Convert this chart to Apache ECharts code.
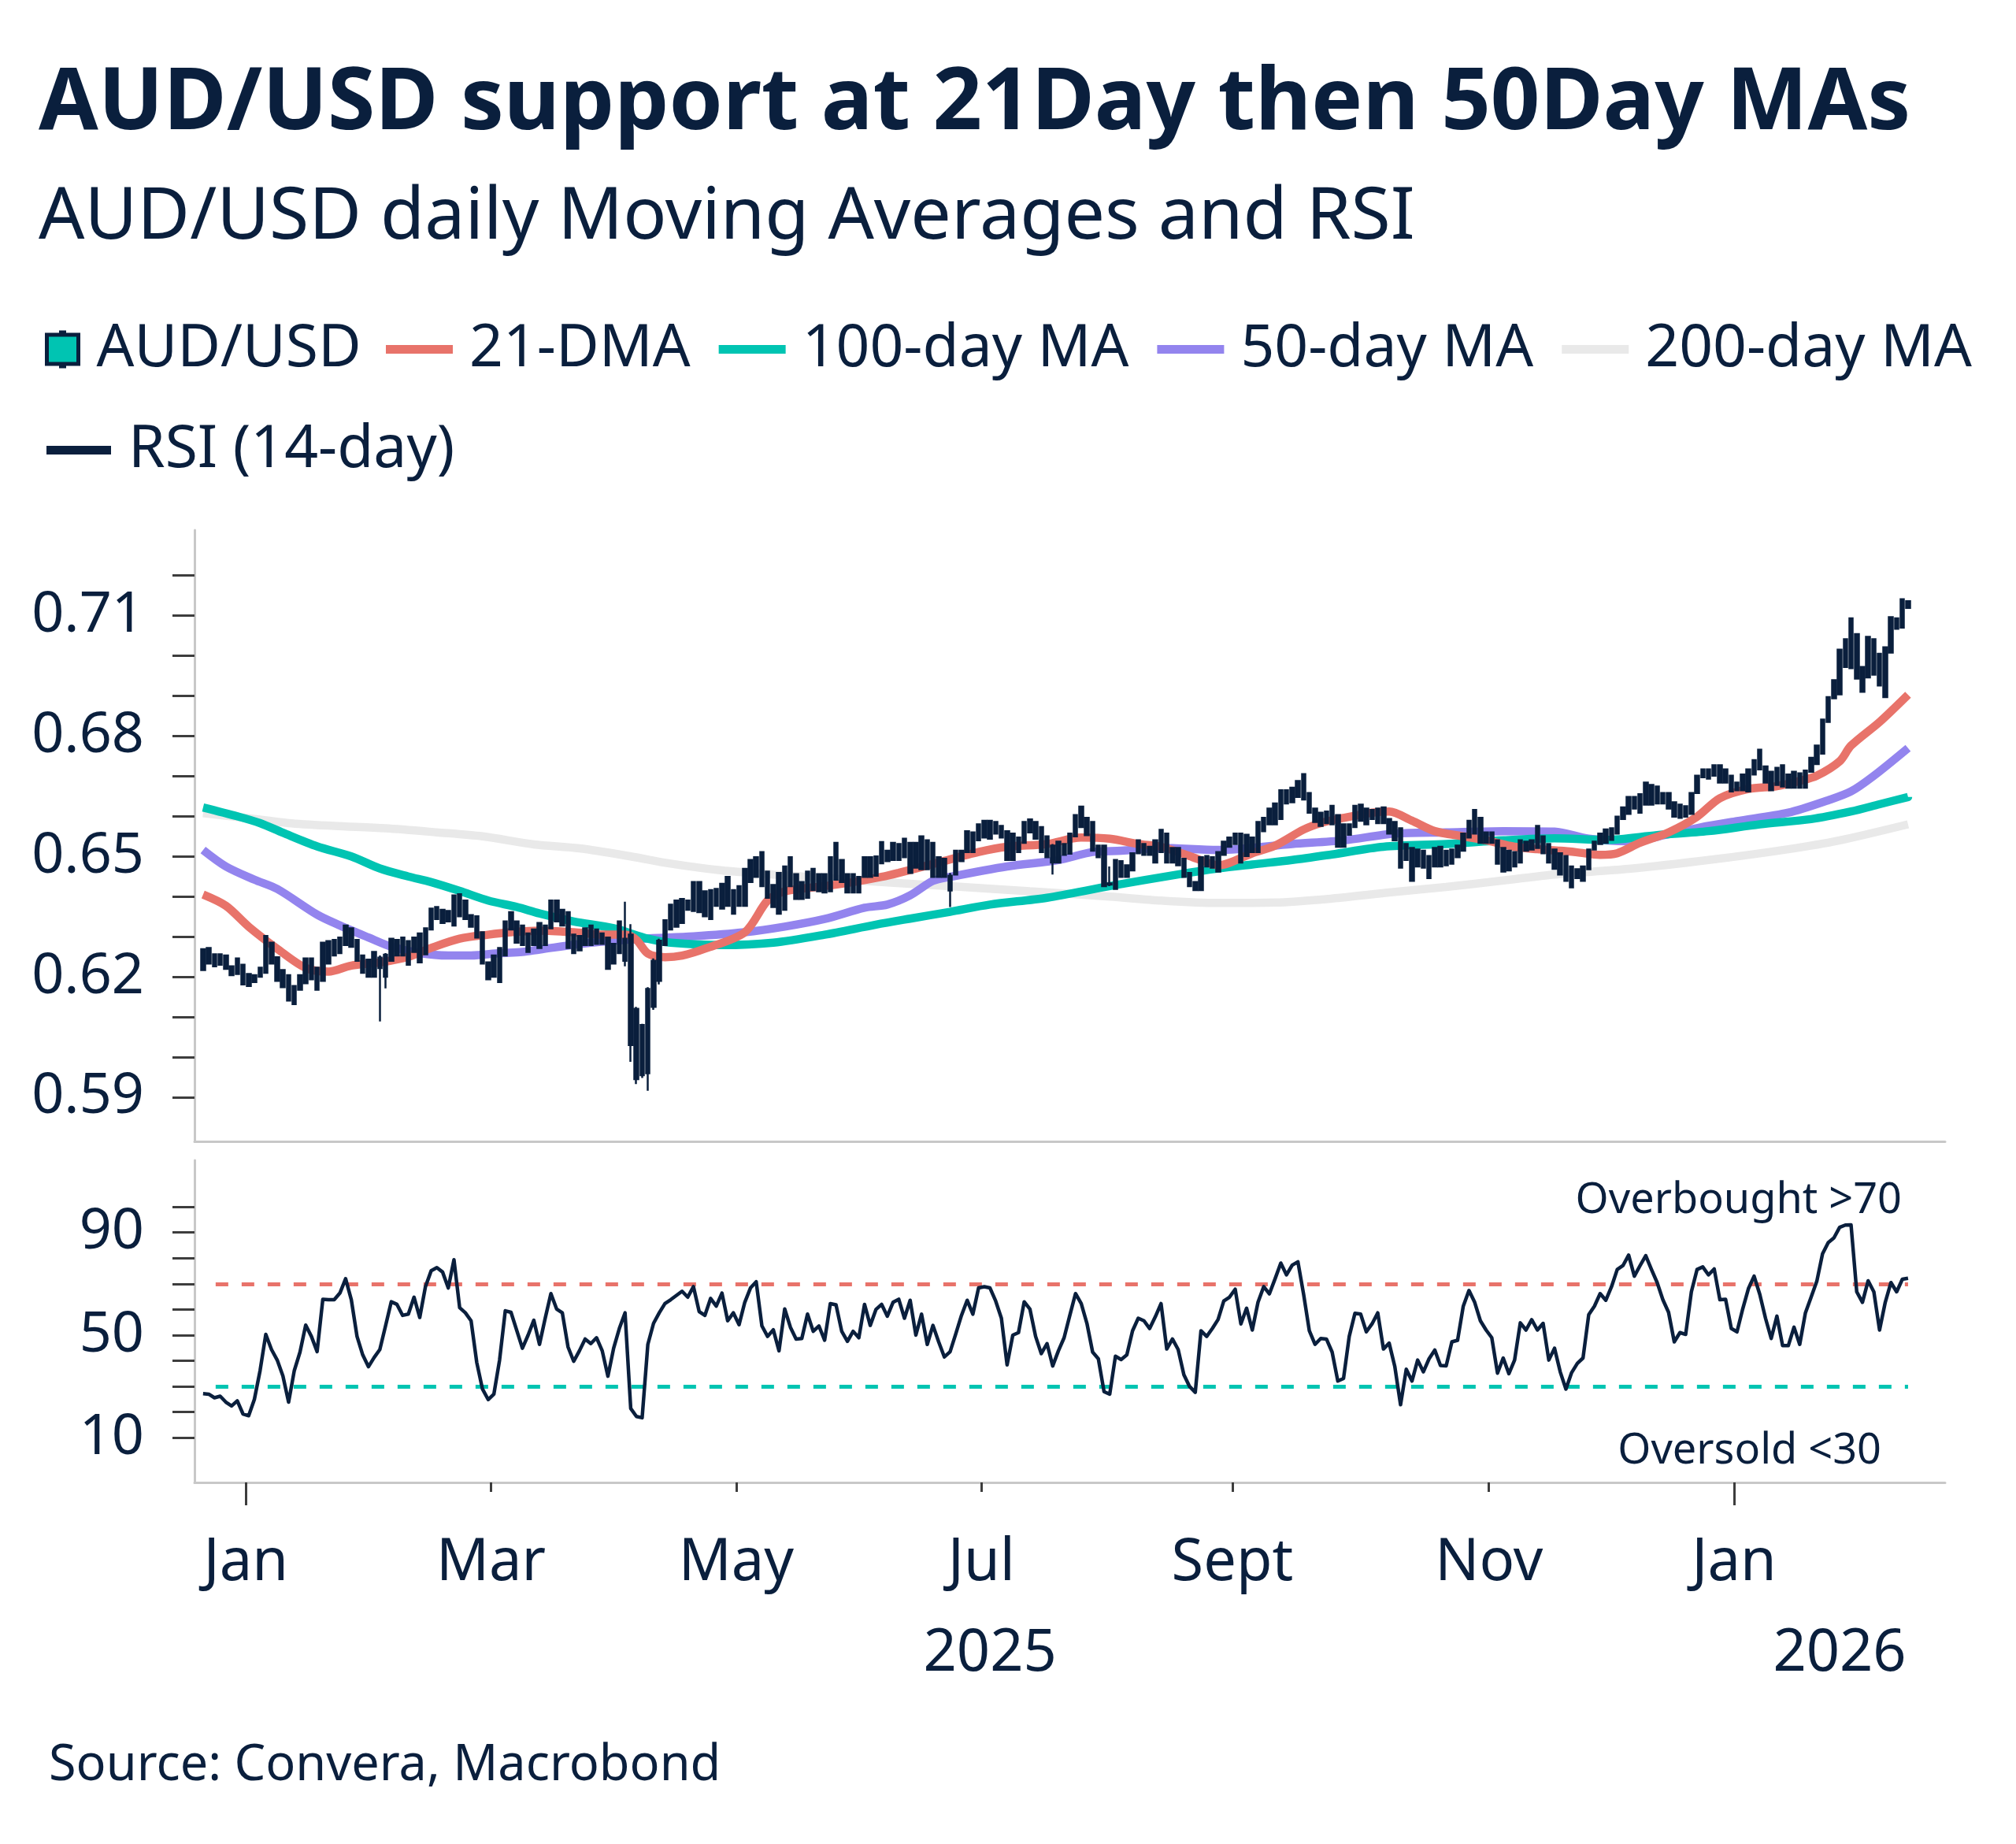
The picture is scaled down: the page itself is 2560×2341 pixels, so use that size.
<!DOCTYPE html>
<html>
<head>
<meta charset="utf-8">
<script src="https://cdn.jsdelivr.net/npm/echarts@6/dist/echarts.min.js"></script>
<style>
html,body{margin:0;padding:0;background:#ffffff;}
#chart{width:2560px;height:2341px;}
</style>
</head>
<body>
<div id="chart"></div>
<script>
// ---------------- DATA ----------------
const firstCategoryDate = '2024-12-19';   // x-axis runs over business days
const categoryCount = 307;
const firstCandleDate = '2024-12-20';

// AUD/USD daily candles [open, close, low, high], 20 Dec 2024 .. 12 Feb 2026
const candles = [
[.6217,.6269,.6217,.6269],[.6272,.6233,.6233,.6272],[.6226,.6256,.6226,.6256],[.6256,.6230,.6230,.6256],[.6253,.6220,.6220,.6253],[.6204,.6226,.6204,.6226],[.6246,.6207,.6207,.6246],[.6230,.6181,.6181,.6230],
[.6177,.6207,.6177,.6207],[.6187,.6204,.6187,.6204],[.6200,.6223,.6200,.6223],[.6210,.6302,.6210,.6302],[.6285,.6233,.6233,.6285],[.6249,.6190,.6190,.6249],[.6217,.6174,.6174,.6217],[.6204,.6141,.6141,.6204],[.6132,.6177,.6132,.6177],[.6168,.6204,.6168,.6204],[.6184,.6246,.6184,.6246],[.6246,.6194,.6194,.6246],[.6168,.6223,.6168,.6223],[.6190,.6285,.6190,.6285],[.6233,.6289,.6233,.6289],[.6253,.6292,.6253,.6292],[.6259,.6298,.6259,.6298],[.6328,.6279,.6279,.6328],[.6321,.6275,.6275,.6321],[.6292,.6240,.6240,.6292],[.6253,.6210,.6210,.6253],[.6200,.6243,.6200,.6243],[.6262,.6200,.6200,.6262],
[.6222,.6248,.6089,.6253],[.6200,.6255,.6171,.6259],[.6240,.6295,.6240,.6295],[.6292,.6253,.6253,.6292],[.6298,.6253,.6253,.6298],[.6230,.6289,.6230,.6289],[.6298,.6262,.6262,.6298],[.6236,.6308,.6236,.6308],[.6256,.6321,.6256,.6321],[.6318,.6370,.6318,.6370],[.6374,.6344,.6344,.6374],[.6367,.6334,.6334,.6367],[.6338,.6364,.6338,.6364],[.6328,.6403,.6328,.6403],[.6406,.6351,.6351,.6406],[.6390,.6344,.6344,.6390],[.6354,.6325,.6325,.6354],[.6351,.6298,.6298,.6351],[.6311,.6233,.6233,.6311],[.6194,.6236,.6194,.6236],
[.6253,.6200,.6200,.6253],[.6187,.6272,.6187,.6272],[.6253,.6338,.6253,.6338],[.6361,.6318,.6318,.6361],[.6338,.6285,.6285,.6338],[.6328,.6279,.6279,.6328],[.6262,.6308,.6262,.6308],[.6279,.6318,.6279,.6318],[.6334,.6272,.6272,.6334],[.6279,.6328,.6279,.6328],[.6321,.6390,.6321,.6390],[.6390,.6338,.6338,.6390],[.6367,.6328,.6328,.6367],[.6361,.6272,.6272,.6361],[.6259,.6305,.6259,.6305],[.6266,.6302,.6266,.6302],[.6279,.6321,.6279,.6321],[.6328,.6279,.6279,.6328],[.6318,.6282,.6282,.6318],[.6308,.6282,.6282,.6308],[.6298,.6220,.6220,.6298],
[.6233,.6282,.6233,.6282],[.6259,.6338,.6259,.6338],[.6295,.6240,.6226,.6387],[.6305,.6030,.5988,.6331],[.6120,.5945,.5933,.6125],[.6080,.5955,.5948,.6083],[.5960,.6170,.5916,.6174],[.6125,.6240,.6118,.6246],[.6190,.6290,.6181,.6295],[.6279,.6341,.6279,.6341],[.6318,.6380,.6318,.6380],[.6325,.6390,.6325,.6390],[.6334,.6394,.6334,.6394],[.6367,.6390,.6367,.6390],[.6436,.6364,.6364,.6436],[.6436,.6361,.6361,.6436],[.6413,.6351,.6351,.6413],[.6344,.6416,.6344,.6416],[.6377,.6419,.6377,.6419],[.6370,.6432,.6370,.6432],[.6449,.6377,.6377,.6449],[.6357,.6416,.6357,.6416],
[.6377,.6426,.6377,.6426],[.6377,.6469,.6377,.6469],[.6436,.6491,.6436,.6491],[.6498,.6449,.6449,.6498],[.6511,.6426,.6426,.6511],[.6462,.6397,.6397,.6462],[.6374,.6429,.6374,.6429],[.6357,.6459,.6357,.6459],[.6367,.6475,.6367,.6475],[.6498,.6426,.6426,.6498],[.6456,.6394,.6394,.6456],[.6394,.6436,.6394,.6436],[.6397,.6462,.6397,.6462],[.6469,.6416,.6416,.6469],[.6456,.6413,.6413,.6456],[.6410,.6456,.6410,.6456],[.6413,.6498,.6413,.6498],[.6534,.6442,.6442,.6534],[.6491,.6436,.6436,.6491],[.6456,.6410,.6410,.6456],[.6456,.6410,.6410,.6456],[.6410,.6449,.6410,.6449],
[.6449,.6498,.6449,.6498],[.6449,.6498,.6449,.6498],[.6452,.6500,.6452,.6500],[.6536,.6483,.6483,.6536],[.6488,.6514,.6488,.6514],[.6534,.6491,.6491,.6534],[.6491,.6531,.6491,.6531],[.6544,.6498,.6498,.6544],[.6459,.6534,.6459,.6534],[.6472,.6534,.6472,.6534],[.6550,.6468,.6468,.6550],[.6540,.6468,.6468,.6540],[.6534,.6449,.6449,.6534],[.6498,.6449,.6449,.6498],[.6494,.6449,.6449,.6494],[.6415,.6452,.6374,.6459],[.6455,.6514,.6455,.6514],[.6488,.6514,.6488,.6514],[.6511,.6563,.6511,.6563],[.6511,.6560,.6511,.6560],[.6540,.6580,.6540,.6580],
[.6589,.6547,.6547,.6589],[.6544,.6589,.6544,.6589],[.6586,.6557,.6557,.6586],[.6576,.6547,.6547,.6576],[.6563,.6491,.6491,.6563],[.6491,.6557,.6491,.6557],[.6511,.6547,.6511,.6547],[.6534,.6586,.6534,.6586],[.6592,.6560,.6560,.6592],[.6586,.6544,.6544,.6586],[.6573,.6511,.6511,.6573],[.6550,.6498,.6498,.6550],[.6485,.6527,.6455,.6531],[.6485,.6537,.6485,.6537],[.6504,.6531,.6504,.6531],[.6507,.6557,.6507,.6557],[.6550,.6603,.6550,.6603],[.6624,.6573,.6573,.6624],[.6596,.6553,.6553,.6596],[.6586,.6514,.6514,.6586],[.6527,.6498,.6498,.6527],[.6527,.6426,.6426,.6527],[.6433,.6430,.6426,.6475],
[.6419,.6491,.6419,.6491],[.6488,.6449,.6449,.6488],[.6449,.6478,.6449,.6478],[.6465,.6508,.6465,.6508],[.6540,.6508,.6508,.6540],[.6531,.6504,.6504,.6531],[.6504,.6524,.6504,.6524],[.6485,.6540,.6485,.6540],[.6566,.6511,.6511,.6566],[.6557,.6485,.6485,.6557],[.6521,.6485,.6485,.6521],[.6521,.6478,.6478,.6521],[.6494,.6449,.6449,.6494],[.6459,.6426,.6426,.6459],[.6416,.6436,.6416,.6436],[.6416,.6498,.6416,.6498],[.6501,.6475,.6475,.6501],[.6472,.6498,.6472,.6498],[.6462,.6511,.6462,.6511],[.6504,.6537,.6504,.6537],[.6524,.6547,.6524,.6547],
[.6557,.6531,.6531,.6557],[.6557,.6485,.6485,.6557],[.6501,.6554,.6501,.6554],[.6511,.6547,.6511,.6547],[.6511,.6586,.6511,.6586],[.6563,.6596,.6563,.6596],[.6580,.6619,.6580,.6619],[.6580,.6632,.6580,.6632],[.6593,.6665,.6593,.6665],[.6632,.6665,.6632,.6665],[.6635,.6671,.6635,.6671],[.6648,.6688,.6648,.6688],[.6705,.6642,.6642,.6705],[.6658,.6609,.6609,.6658],[.6619,.6586,.6586,.6619],[.6576,.6609,.6576,.6609],[.6583,.6612,.6583,.6612],[.6626,.6580,.6580,.6626],[.6603,.6524,.6524,.6603],[.6524,.6580,.6524,.6580],[.6554,.6580,.6554,.6580],[.6573,.6626,.6573,.6626],
[.6629,.6589,.6589,.6629],[.6580,.6619,.6580,.6619],[.6616,.6593,.6593,.6616],[.6583,.6619,.6583,.6619],[.6622,.6583,.6583,.6622],[.6593,.6557,.6557,.6593],[.6586,.6540,.6540,.6586],[.6570,.6472,.6472,.6570],[.6531,.6491,.6491,.6531],[.6439,.6521,.6439,.6521],[.6517,.6475,.6475,.6517],[.6514,.6472,.6472,.6514],[.6446,.6501,.6446,.6501],[.6521,.6475,.6475,.6521],[.6524,.6475,.6475,.6524],[.6478,.6514,.6478,.6514],[.6482,.6517,.6482,.6517],[.6498,.6527,.6498,.6527],[.6514,.6557,.6514,.6557],[.6547,.6589,.6547,.6589],[.6616,.6557,.6557,.6616],[.6596,.6534,.6534,.6596],[.6560,.6534,.6534,.6560],
[.6560,.6534,.6534,.6560],[.6540,.6482,.6482,.6540],[.6462,.6521,.6462,.6521],[.6465,.6514,.6465,.6514],[.6475,.6511,.6475,.6511],[.6485,.6540,.6485,.6540],[.6514,.6537,.6514,.6537],[.6517,.6540,.6517,.6540],[.6576,.6521,.6521,.6576],[.6550,.6508,.6508,.6550],[.6531,.6485,.6485,.6531],[.6517,.6469,.6469,.6517],[.6508,.6455,.6455,.6508],[.6501,.6439,.6439,.6501],[.6423,.6475,.6423,.6475],[.6446,.6468,.6446,.6468],[.6439,.6475,.6439,.6475],[.6468,.6517,.6468,.6517],[.6517,.6537,.6517,.6537],[.6531,.6557,.6531,.6557],
[.6534,.6567,.6534,.6567],[.6541,.6570,.6541,.6570],[.6557,.6599,.6557,.6599],[.6593,.6622,.6593,.6622],[.6606,.6648,.6606,.6648],[.6648,.6619,.6619,.6648],[.6609,.6655,.6609,.6655],[.6629,.6684,.6629,.6684],[.6678,.6629,.6629,.6678],[.6674,.6632,.6632,.6674],[.6658,.6632,.6632,.6658],[.6658,.6619,.6619,.6658],[.6635,.6599,.6599,.6635],[.6596,.6629,.6596,.6629],[.6599,.6625,.6599,.6625],[.6606,.6658,.6606,.6658],[.6658,.6701,.6658,.6701],[.6697,.6717,.6697,.6717],[.6694,.6717,.6694,.6717],[.6727,.6701,.6701,.6727],[.6727,.6684,.6684,.6727],[.6717,.6684,.6684,.6717],[.6701,.6662,.6662,.6701],
[.6665,.6684,.6665,.6684],[.6665,.6704,.6665,.6704],[.6662,.6717,.6662,.6717],[.6704,.6740,.6704,.6740],[.6766,.6717,.6717,.6766],[.6724,.6684,.6684,.6724],[.6665,.6711,.6665,.6711],[.6721,.6678,.6678,.6721],[.6727,.6674,.6674,.6727],[.6671,.6704,.6671,.6704],[.6711,.6671,.6671,.6711],[.6671,.6707,.6671,.6707],[.6671,.6714,.6671,.6714],[.6711,.6746,.6711,.6746],[.6730,.6776,.6730,.6776],[.6756,.6841,.6756,.6841],[.6835,.6897,.6835,.6897],[.6894,.6939,.6894,.6939],[.6904,.7015,.6904,.7015],[.6972,.7041,.6972,.7041],[.7093,.6969,.6969,.7093],[.7054,.6943,.6943,.7054],
[.6910,.6972,.6910,.6972],[.6946,.7047,.6946,.7047],[.7041,.6953,.6953,.7041],[.7005,.6926,.6926,.7005],[.6897,.7021,.6897,.7021],[.7008,.7096,.7008,.7096],[.7067,.7093,.7067,.7093],[.7070,.7141,.7070,.7141],[.7119,.7136,.7119,.7136]
];

// RSI (14-day), same days as the candles (null = not read)
const rsi = [
27.2,27.0,25.6,26.2,23.9,22.4,24.4,19.3,
18.6,25.0,36.2,50.3,44.4,40.3,34.1,23.9,36.2,43.4,
53.9,49.5,43.6,64.0,63.8,63.8,66.4,72.0,63.8,49.5,
42.3,37.7,41.3,44.4,53.6,63.0,62.0,57.7,58.2,64.8,
56.9,68.9,75.1,76.3,74.6,68.4,79.4,60.7,58.7,55.6,
39.3,29.0,24.9,27.0,40.3,59.5,58.9,null,44.9,50.0,
55.8,46.4,56.6,66.2,60.2,58.7,45.4,39.8,43.9,48.5,
46.7,49.0,43.9,34.0,44.9,52.6,58.7,21.4,18.3,17.8,
46.4,54.6,58.7,62.3,63.8,null,67.1,64.8,68.9,59.2,
57.7,64.3,61.3,66.4,55.6,58.7,54.1,62.8,68.4,70.8,
53.6,49.5,52.1,43.9,60.2,53.1,48.5,48.7,58.2,51.5,
53.6,48.0,62.3,61.8,51.5,47.6,51.5,49.0,62.0,53.8,
60.0,62.0,57.4,62.8,64.0,56.6,63.6,50.0,58.2,46.4,
53.8,47.4,41.5,43.5,50.5,57.7,63.6,58.2,68.4,68.9,
68.4,63.3,56.6,38.4,50.0,51.0,63.0,60.2,49.5,42.8,
46.7,38.0,43.9,49.0,57.7,66.2,62.3,54.6,43.4,40.8,
28.0,27.0,41.8,40.5,42.3,51.7,56.6,55.6,52.6,57.2,
62.3,44.6,48.5,44.4,34.6,30.0,27.7,51.7,49.5,52.6,
56.1,63.3,64.8,67.9,54.4,60.5,52.0,62.8,68.9,66.1,
72.0,78.1,73.5,77.3,78.6,65.9,51.7,46.4,48.7,48.5,
43.4,32.1,33.1,49.5,58.5,58.2,51.3,54.4,58.7,44.6,
46.9,37.7,22.9,36.7,32.1,40.3,35.7,40.8,44.2,38.2,
38.0,47.4,48.0,61.3,67.4,62.8,55.6,52.0,49.0,35.2,
41.1,35.0,40.3,54.8,52.0,56.0,52.0,54.6,40.3,44.9,
35.7,29.0,35.4,39.0,41.1,58.0,61.3,66.2,63.6,68.9,
75.6,77.1,81.2,73.0,77.1,81.0,75.6,70.5,63.8,58.9,
47.4,51.0,50.3,66.9,75.6,76.6,73.5,75.8,63.8,64.0,
52.6,51.3,60.2,68.1,73.0,65.9,56.6,48.7,57.4,45.9,
45.9,53.1,46.4,58.7,64.8,71.0,81.7,86.1,87.9,92.0,
92.9,93.0,66.9,62.8,71.2,66.9,52.0,62.8,70.5,66.9,
71.8,72.2
];

// Moving averages: [business-day index on the x axis, value]
const ma21 = [[1,.6405],[5,.6377],[9,.6325],[14,.6270],[19,.6222],[23,.6213],[27,.6228],[32,.6236],[37,.6250],[41,.6272],[46,.6295],[51,.6305],[55,.6311],[60,.6315],[66,.6311],[71,.6305],[75,.6305],[77,.6292],[79,.6258],[82,.6249],[85,.6253],[89,.6270],[96,.6311],[100,.6390],[103,.6413],[110,.6426],[115,.6436],[120,.6449],[123,.6459],[130,.6485],[137,.6511],[142,.6524],[149,.6531],[155,.6547],[160,.6544],[165,.6531],[169,.6524],[174,.6501],[177,.6485],[179,.6478],[185,.6508],[189,.6527],[194,.6567],[197,.6583],[201,.6596],[206,.6609],[209,.6612],[213,.6589],[217,.6563],[222,.6550],[226,.6540],[231,.6524],[235,.6518],[239,.6514],[242,.6510],[246,.6504],[249,.6508],[253,.6534],[258,.6560],[263,.6599],[267,.6645],[272,.6668],[277,.6675],[281,.6688],[284,.6701],[288,.6737],[290,.6776],[295,.6835],[300,.6903]];
const ma50 = [[1,.6516],[5,.6475],[10,.6442],[14,.6419],[21,.6355],[25,.6328],[30,.6298],[34,.6275],[39,.6259],[44,.6253],[48,.6253],[53,.6259],[57,.6262],[60,.6268],[69,.6285],[78,.6295],[87,.6301],[96,.6311],[103,.6325],[110,.6344],[117,.6372],[121,.6380],[125,.6403],[129,.6439],[132,.6449],[142,.6475],[151,.6491],[157,.6511],[162,.6514],[169,.6521],[179,.6516],[192,.6531],[201,.6540],[210,.6557],[219,.6560],[229,.6563],[238,.6562],[244,.6544],[251,.6538],[258,.6555],[265,.6576],[270,.6588],[279,.6609],[286,.6640],[290,.6662],[294,.6701],[300,.6770]];
const ma100 = [[1,.6622],[7,.6600],[11,.6583],[15,.6559],[21,.6525],[27,.6500],[32,.6470],[37,.6450],[41,.6436],[46,.6414],[51,.6390],[56,.6374],[60,.6358],[66,.6338],[73,.6321],[79,.6295],[83,.6285],[92,.6279],[101,.6285],[110,.6305],[119,.6330],[125,.6345],[132,.6362],[139,.6380],[149,.6397],[160,.6426],[172,.6455],[179,.6470],[185,.6480],[192,.6491],[199,.6505],[208,.6524],[219,.6531],[229,.6540],[238,.6545],[247,.6541],[256,.6553],[265,.6563],[274,.6580],[283,.6593],[290,.6612],[295,.6630],[300,.6648]];
const ma200 = [[1,.6608],[9,.6595],[16,.6583],[24,.6576],[33,.6570],[42,.6560],[50,.6550],[59,.6530],[67,.6520],[76,.6500],[83,.6482],[92,.6465],[101,.6455],[110,.6446],[120,.6436],[132,.6426],[146,.6413],[160,.6400],[169,.6390],[179,.6384],[189,.6385],[199,.6395],[209,.6410],[219,.6424],[229,.6440],[238,.6455],[251,.6469],[265,.6491],[279,.6518],[288,.6540],[300,.6580]];

// Axis ticks and labels
const priceTicks = [0.59,0.60,0.61,0.62,0.63,0.64,0.65,0.66,0.67,0.68,0.69,0.70,0.71,0.72];
const priceLabels = [0.59,0.62,0.65,0.68,0.71];
const rsiTicks = [10,20,30,40,50,60,70,80,90,100];
const rsiLabels = [10,50,90];
const monthLabelNames = {0:'Jan',2:'Mar',4:'May',6:'Jul',8:'Sept',10:'Nov'};
const yearLabels = ['2025','2026'];
const overbought = 70, oversold = 30;

// ---------------- BUILD ----------------
const dates = [];
(function () {
  const d = new Date(firstCategoryDate + 'T00:00:00Z');
  while (dates.length < categoryCount) {
    const w = d.getUTCDay();
    if (w !== 0 && w !== 6) dates.push(d.toISOString().slice(0, 10));
    d.setUTCDate(d.getUTCDate() + 1);
  }
})();
const c0 = dates.indexOf(firstCandleDate);
const candleData = candles.map((c, i) => [c0 + i, c[0], c[1], c[2], c[3]]);
const rsiData = [];
rsi.forEach((v, i) => { if (v !== null) rsiData.push([c0 + i, v]); });
const lastIdx = c0 + candles.length - 1;

const monthStarts = [];
for (let i = 1; i < dates.length; i++) {
  if (dates[i].slice(5, 7) !== dates[i - 1].slice(5, 7)) monthStarts.push(i);
}
const labelPos = {}, shortTicks = [], janTicks = [];
monthStarts.forEach(i => {
  const m = parseInt(dates[i].slice(5, 7), 10) - 1;
  if (monthLabelNames[m] !== undefined) {
    labelPos[i] = monthLabelNames[m];
    if (m === 0) janTicks.push(i); else shortTicks.push(i);
  }
});
const yearPos = {};
yearLabels.forEach(y => {
  const s = dates.findIndex(d => d.slice(0, 4) === y);
  let e = dates.length;
  const n = dates.findIndex(d => d.slice(0, 4) > y);
  if (n >= 0) e = n;
  yearPos[(s + e) / 2] = y;
});

const NAVY = '#0a1f3d';
const RED = '#e8736a', TEAL = '#00c4b2', PURPLE = '#9384ee', GREY = '#e9e9e9';
const AXIS = '#c8c8c8', TICK = '#3d3d3d';
const FONT = '"Noto Sans", "Open Sans", sans-serif';

const chart = echarts.init(document.getElementById('chart'), null, { renderer: 'canvas' });

const gridL = 247, gridR = 90;
const txt = (text, x, y, font, align) => ({ type: 'text', x: x, y: y, style: { text: text, font: font, fill: NAVY,
  align: align, verticalAlign: 'middle', textAlign: align, textVerticalAlign: 'middle' } });

const option = {
  animation: false,
  backgroundColor: '#ffffff',
  grid: [
    { left: gridL, right: gridR, top: 673, height: 776, outerBoundsMode: 'none' },
    { left: gridL, right: gridR, top: 1473, height: 409, outerBoundsMode: 'none' }
  ],
  legend: [
    { left: 52, top: 401, itemWidth: 44, itemHeight: 43, selectedMode: false,
      data: [{ name: 'AUD/USD', icon: 'path://M20,0H24V3H42V40H24V43H20V40H2V3H20Z',
               itemStyle: { color: TEAL, borderColor: NAVY, borderWidth: 5 } }],
      textStyle: { color: NAVY, fontSize: 75, fontFamily: FONT, padding: [0, 0, 0, 16] } },
    { left: 485, top: 401, itemWidth: 85, itemHeight: 11, itemGap: 36, icon: 'rect', selectedMode: false,
      data: ['21-DMA', '100-day MA', '50-day MA', '200-day MA'],
      textStyle: { color: NAVY, fontSize: 75, fontFamily: FONT, padding: [0, 0, 0, 16] } },
    { left: 54, top: 529, itemWidth: 82, itemHeight: 11, icon: 'rect', selectedMode: false,
      data: ['RSI (14-day)'],
      textStyle: { color: NAVY, fontSize: 75, fontFamily: FONT, padding: [0, 0, 0, 17] } }
  ],
  xAxis: [
    { gridIndex: 0, type: 'category', data: dates, boundaryGap: true,
      axisLine: { show: true, onZero: false, lineStyle: { color: AXIS, width: 3 } },
      axisTick: { show: false }, axisLabel: { show: false }, splitLine: { show: false } },
    { gridIndex: 1, type: 'category', data: dates, boundaryGap: true,
      axisLine: { show: true, onZero: false, lineStyle: { color: AXIS, width: 3 } },
      axisTick: { show: false }, axisLabel: { show: false }, splitLine: { show: false } },
    { gridIndex: 1, type: 'value', position: 'bottom', min: 0, max: dates.length,
      axisLine: { show: false, onZero: false },
      axisTick: { show: true, length: 12, customValues: shortTicks, lineStyle: { color: TICK, width: 3 } },
      axisLabel: { show: true, customValues: Object.keys(labelPos).map(Number),
        formatter: v => labelPos[v] || '', margin: 66, color: NAVY, fontSize: 74, fontFamily: FONT },
      splitLine: { show: false } },
    { gridIndex: 1, type: 'value', position: 'bottom', min: 0, max: dates.length,
      axisLine: { show: false, onZero: false },
      axisTick: { show: true, length: 29, customValues: janTicks, lineStyle: { color: TICK, width: 3 } },
      axisLabel: { show: true, customValues: Object.keys(yearPos).map(Number),
        formatter: v => yearPos[v] || '', margin: 181, color: NAVY, fontSize: 74, fontFamily: FONT },
      splitLine: { show: false } }
  ],
  yAxis: [
    { gridIndex: 0, type: 'value', min: 0.579, max: 0.7313,
      axisLine: { show: true, onZero: false, lineStyle: { color: AXIS, width: 3 } },
      axisTick: { show: true, length: 28, customValues: priceTicks, lineStyle: { color: TICK, width: 3 } },
      axisLabel: { show: true, customValues: priceLabels, formatter: v => v.toFixed(2), margin: 64,
        color: NAVY, fontSize: 72, fontFamily: FONT, padding: [10, 0, 0, 0] },
      splitLine: { show: false } },
    { gridIndex: 1, type: 'value', min: -7.4, max: 118.15,
      axisLine: { show: true, onZero: false, lineStyle: { color: AXIS, width: 3 } },
      axisTick: { show: true, length: 28, customValues: rsiTicks, lineStyle: { color: TICK, width: 3 } },
      axisLabel: { show: true, customValues: rsiLabels, margin: 64,
        color: NAVY, fontSize: 72, fontFamily: FONT, padding: [8, 0, 0, 0] },
      splitLine: { show: false } }
  ],
  series: [
    { name: '200-day MA', type: 'line', xAxisIndex: 0, yAxisIndex: 0, data: ma200, symbol: 'none', smooth: 0.3,
      lineStyle: { color: GREY, width: 10.5 }, itemStyle: { color: GREY }, z: 1 },
    { name: '50-day MA', type: 'line', xAxisIndex: 0, yAxisIndex: 0, data: ma50, symbol: 'none', smooth: 0.3,
      lineStyle: { color: PURPLE, width: 10.5 }, itemStyle: { color: PURPLE }, z: 2 },
    { name: '100-day MA', type: 'line', xAxisIndex: 0, yAxisIndex: 0, data: ma100, symbol: 'none', smooth: 0.3,
      lineStyle: { color: TEAL, width: 10.5 }, itemStyle: { color: TEAL }, z: 3 },
    { name: '21-DMA', type: 'line', xAxisIndex: 0, yAxisIndex: 0, data: ma21, symbol: 'none', smooth: 0.3,
      lineStyle: { color: RED, width: 10.5 }, itemStyle: { color: RED }, z: 4 },
    { name: 'AUD/USD', type: 'candlestick', xAxisIndex: 0, yAxisIndex: 0, data: candleData,
      encode: { x: 0, y: [1, 2, 3, 4] }, barWidth: 5, z: 5,
      itemStyle: { color: NAVY, color0: NAVY, borderColor: NAVY, borderColor0: NAVY, borderWidth: 2.5 } },
    { name: 'RSI (14-day)', type: 'line', xAxisIndex: 1, yAxisIndex: 1, data: rsiData, symbol: 'none',
      lineStyle: { color: NAVY, width: 4.5, join: 'round' }, itemStyle: { color: NAVY }, z: 5,
      markLine: { silent: true, symbol: ['none', 'none'], label: { show: false },
        data: [
          [{ coord: [c0, overbought], lineStyle: { color: RED, width: 5, type: [16, 17], dashOffset: 17 } },
           { coord: [lastIdx, overbought] }],
          [{ coord: [c0, oversold], lineStyle: { color: TEAL, width: 5, type: [16, 17], dashOffset: 17 } },
           { coord: [lastIdx, oversold] }]
        ] } }
  ],
  graphic: [
    txt('AUD/USD support at 21Day then 50Day MAs', 49, 133, 'bold 109.5px ' + FONT, 'left'),
    txt('AUD/USD daily Moving Averages and RSI', 49, 277, '91.5px ' + FONT, 'left'),
    txt('Overbought >70', 2415, 1525, '54px ' + FONT, 'right'),
    txt('Oversold <30', 2389, 1843, '54px ' + FONT, 'right'),
    txt('Source: Convera, Macrobond', 62, 2242, '63px ' + FONT, 'left')
  ]
};
chart.setOption(option);
</script>
</body>
</html>
